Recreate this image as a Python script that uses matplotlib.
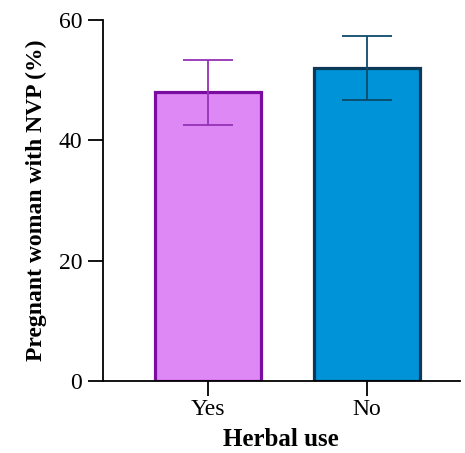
import matplotlib.pyplot as plt

# data
groups = ['Yes', 'No']
values = [48.0, 52.0]
errors = [5.4, 5.3]
fill_colors = ['#DD88F5', '#0093D8']
edge_colors = ['#7A0CA0', '#0B3A58']
err_colors = ['#9432B8', '#0D4A6A']

plt.rcParams['font.family'] = ['Liberation Serif', 'DejaVu Serif']

fig = plt.figure(figsize=(4.65, 4.53), dpi=100)
ax = fig.add_axes([0.2215, 0.159, 0.767, 0.797])

x = range(len(groups))
for i in x:
    ax.bar(i, values[i], width=0.667, color=fill_colors[i], edgecolor=edge_colors[i],
           linewidth=2.3, zorder=2)
    ax.errorbar(i, values[i], yerr=errors[i], color=err_colors[i], capsize=18,
                elinewidth=1.3, capthick=1.3, zorder=3)

ax.set_xlim(-0.66, 1.585)
ax.set_ylim(0, 60)
ax.set_yticks([0, 20, 40, 60])
ax.set_xticks(list(x))
ax.set_xticklabels(groups)
ax.spines['top'].set_visible(False)
ax.spines['right'].set_visible(False)
ax.spines['left'].set_linewidth(1.3)
ax.spines['bottom'].set_linewidth(1.3)
ax.tick_params(axis='both', labelsize=17, width=1.3, length=11, pad=4)
ax.tick_params(axis='x', pad=2)
ax.set_ylabel('Pregnant woman with NVP (%)', fontsize=17, fontweight='bold', labelpad=8)
ax.set_xlabel('Herbal use', fontsize=18, fontweight='bold', labelpad=6)

fig.savefig('out.png', dpi=100)
